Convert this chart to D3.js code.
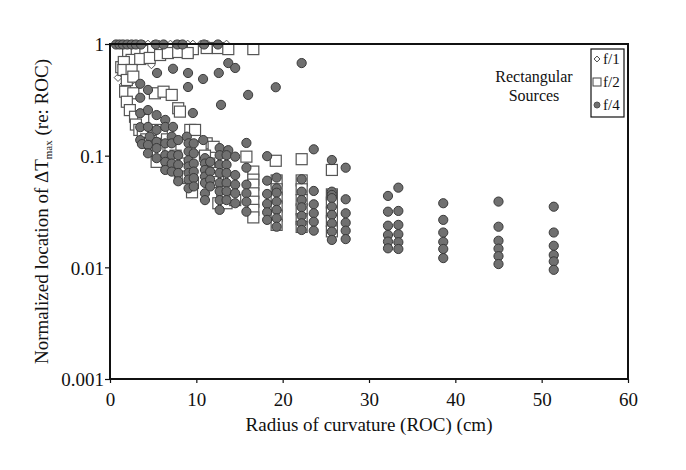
<!DOCTYPE html>
<html>
<head>
<meta charset="utf-8">
<script src="https://cdn.jsdelivr.net/npm/d3@7"></script>
<style>
  body { margin: 0; background: #fff; }
  svg text { font-family: "Liberation Serif", "DejaVu Serif", serif; fill: #111; }
</style>
</head>
<body>
<svg id="chart" width="686" height="470"></svg>
<script>
// f/1 sources (diamonds)
var f1 = [
  [0.6,1],[0.9,1],[1.3,1],[1.7,1],[2.2,1],[2.7,1],[3.3,1],[3.9,1],[4.4,1],[5.0,1],
  [5.7,1],[6.4,1],[7.0,1],[7.5,1],[8.1,1],[9.0,1],[9.6,1],[10.5,1],[11.3,1],[12.7,1],[13.5,1],
  [1.35,0.69],[1.15,0.565],[0.93,0.5],[1.5,0.43],[2.7,0.476],[4.8,0.65],[2.0,0.62]
];

// f/2 sources (squares)
var f2 = [
  [2.1,0.848],[3.1,0.88],[4.1,0.866],[5.0,0.90],[6.0,0.866],[7.0,0.90],[7.9,0.88],[9.0,0.866],
  [9.6,0.90],[11.2,0.92],[12.5,0.92],[13.7,0.90],[16.6,0.90],
  [2.5,0.72],[3.5,0.734],[4.6,0.75],[5.8,0.797],[6.7,0.83],[7.9,0.848],[9.0,0.83],
  [1.3,0.62],[1.6,0.69],
  [1.55,0.585],[2.5,0.585],[1.95,0.476],[2.7,0.51],[1.75,0.374],[2.7,0.362],[1.95,0.304],
  [2.3,0.256],[2.9,0.223],[3.85,0.209],[5.2,0.362],[6.2,0.374],[7.15,0.35],[7.9,0.266],
  [8.1,0.248],[5.4,0.17],[9.3,0.17],[9.85,0.17],[11.2,0.129],[12.0,0.12],[15.8,0.098],
  [19.2,0.09],[22.2,0.093],[25.7,0.0745],
  [16.6,0.072],[16.6,0.061],[16.6,0.055],[16.6,0.046],[16.6,0.0387],[16.6,0.0327],[16.6,0.028],
  [12.55,0.0375],[13.5,0.0375],[9.5,0.047],[8.1,0.063],[5.4,0.088],
  [19.3,0.06],[19.3,0.05],[19.3,0.042],[19.3,0.035],[19.3,0.029],[19.3,0.024],
  [22.2,0.06],[22.2,0.05],[22.2,0.04],[22.2,0.033],[22.2,0.027],[22.2,0.023],
  [25.7,0.045],[25.7,0.038],[25.7,0.031],[25.7,0.026],[25.7,0.021],
  [10.5,0.12],[11.0,0.10],[11.5,0.085],[12.0,0.07],[12.5,0.058],[13.0,0.048],[13.6,0.043],[14.5,0.04],
  [6.0,0.16],[6.6,0.14],[7.0,0.12],[7.6,0.10],[8.0,0.085],[8.6,0.075],[9.0,0.065],[9.6,0.057],
  [3.0,0.19],[3.4,0.17],[3.8,0.16],[4.2,0.14],[4.6,0.13],[5.0,0.12],[5.5,0.11]
];

// f/4 sources (filled circles)
var f4 = [
  [0.7,0.99],[1.1,0.99],[1.5,0.99],[2.0,0.99],[2.5,0.99],[3.0,0.99],[3.6,0.99],[5.3,0.99],
  [6.2,0.99],[7.8,0.99],[8.4,0.99],[10.9,0.99],[12.5,0.99],
  [13.7,0.675],[14.5,0.61],[5.45,0.55],[7.3,0.6],[9.04,0.55],[10.78,0.486],[12.6,0.55],
  [9.04,0.412],[16.0,0.35],[19.2,0.41],[12.86,0.285],[9.6,0.241],[15.8,0.13],[22.2,0.675],
  [3.5,0.44],[3.5,0.33],[3.5,0.24],[3.5,0.18],[3.5,0.138],[3.7,0.127],
  [4.4,0.388],[4.4,0.256],[4.4,0.181],[4.6,0.148],[4.4,0.125],[4.4,0.105],
  [5.4,0.231],[5.4,0.17],[5.4,0.133],[5.4,0.117],[5.4,0.095],
  [6.4,0.209],[6.4,0.181],[6.4,0.129],[6.4,0.101],[6.4,0.088],[6.4,0.0745],
  [7.3,0.181],[7.15,0.148],[7.15,0.129],[7.15,0.101],[7.15,0.085],[7.15,0.072],
  [7.9,0.138],[7.9,0.101],[7.9,0.083],[7.9,0.07],[7.9,0.059],
  [8.9,0.148],[9.1,0.129],[9.1,0.109],[9.1,0.091],[9.1,0.08],[9.1,0.07],[9.1,0.061],[9.1,0.051],
  [9.7,0.129],[9.7,0.105],[9.7,0.085],[9.7,0.072],[9.7,0.063],[9.7,0.053],
  [10.8,0.138],[11.0,0.095],[11.0,0.085],[11.0,0.0745],[11.0,0.065],[11.0,0.057],[11.0,0.046],[11.0,0.04],
  [11.6,0.088],[11.6,0.072],[11.6,0.061],[11.6,0.053],
  [12.7,0.117],[12.7,0.101],[12.7,0.083],[12.7,0.07],[12.7,0.057],[12.7,0.048],[12.7,0.04],[12.7,0.0327],
  [13.7,0.112],[13.5,0.101],[13.5,0.083],[13.5,0.07],[13.5,0.057],[13.5,0.048],[13.5,0.04],
  [14.5,0.098],[14.5,0.067],[14.5,0.055],[14.5,0.046],[14.5,0.0375],
  [15.8,0.078],[15.8,0.055],[15.8,0.046],[15.8,0.0387],[15.8,0.0315],
  [18.2,0.099],[18.2,0.0597],[18.2,0.0454],[18.2,0.037],[18.2,0.0311],[18.2,0.0266],
  [19.3,0.0636],[19.3,0.051],[19.3,0.0466],[19.3,0.0388],[19.3,0.0327],[19.3,0.0275],[19.3,0.0231],
  [22.2,0.0615],[22.2,0.0476],[22.2,0.0401],[22.2,0.0345],[22.2,0.0289],[22.2,0.0248],[22.2,0.0216],
  [23.6,0.114],[23.6,0.0483],[23.6,0.0367],[23.6,0.0305],[23.6,0.0256],[23.6,0.0213],
  [25.7,0.0914],[25.7,0.0476],[25.7,0.0445],[25.7,0.0417],[25.7,0.0349],[25.7,0.0295],[25.7,0.0248],[25.7,0.0209],[25.7,0.0176],
  [27.3,0.078],[27.3,0.0407],[27.3,0.0305],[27.3,0.0251],[27.3,0.0213],[27.3,0.0179],
  [32.2,0.0436],[32.2,0.0315],[32.2,0.0236],[32.2,0.0195],[32.2,0.017],[32.2,0.0148],
  [33.4,0.0517],[33.4,0.032],[33.4,0.024],[33.4,0.0198],[33.4,0.0168],[33.4,0.0146],
  [38.6,0.0375],[38.6,0.0266],[38.6,0.0205],[38.6,0.0169],[38.6,0.0146],[38.6,0.0121],
  [45.0,0.0388],[45.0,0.0231],[45.0,0.0173],[45.0,0.0147],[45.0,0.0126],[45.0,0.0107],
  [51.4,0.0349],[51.4,0.0205],[51.4,0.0156],[51.4,0.0129],[51.4,0.0113],[51.4,0.0095]
];

var xTicks = [0, 10, 20, 30, 40, 50, 60];
var yTicks = [1, 0.1, 0.01, 0.001];
var yTickLabels = ["1", "0.1", "0.01", "0.001"];
var legendLabels = ["f/1", "f/2", "f/4"];

var svg = d3.select("#chart");
var margin = {top: 44, right: 58, bottom: 91, left: 110},
    width = 686 - margin.left - margin.right,
    height = 470 - margin.top - margin.bottom;

var g = svg.append("g").attr("transform", "translate(" + margin.left + "," + margin.top + ")");

var x = d3.scaleLinear().domain([0, 60]).range([0, width]);
var y = d3.scaleLog().domain([0.001, 1]).range([height, 0]);

// points: diamonds, squares, then circles on top
var symDiamond = d3.symbol().type(d3.symbolDiamond2).size(38);

g.append("g").selectAll("path")
  .data(f1).enter().append("path")
  .attr("d", symDiamond)
  .attr("transform", function(d) { return "translate(" + x(d[0]) + "," + y(d[1]) + ")"; })
  .attr("fill", "#fff").attr("stroke", "#555").attr("stroke-width", 1);

g.append("g").selectAll("rect")
  .data(f2).enter().append("rect")
  .attr("x", function(d) { return x(d[0]) - 5.5; })
  .attr("y", function(d) { return y(d[1]) - 5.5; })
  .attr("width", 11).attr("height", 11)
  .attr("fill", "#fff").attr("stroke", "#555").attr("stroke-width", 1.2);

g.append("g").selectAll("circle")
  .data(f4).enter().append("circle")
  .attr("cx", function(d) { return x(d[0]); })
  .attr("cy", function(d) { return y(d[1]); })
  .attr("r", 4.6)
  .attr("fill", "#707070").attr("stroke", "#3a3a3a").attr("stroke-width", 1);

// frame
g.append("rect").attr("width", width).attr("height", height)
  .attr("fill", "none").attr("stroke", "#111").attr("stroke-width", 2);

var xAxis = g.append("g").attr("transform", "translate(0," + height + ")")
  .call(d3.axisBottom(x).tickValues(xTicks).tickSize(4).tickFormat(d3.format("d")));
var yAxis = g.append("g")
  .call(d3.axisLeft(y).tickValues(yTicks).tickSize(5)
    .tickFormat(function(d, i) { return yTickLabels[i]; }));

[xAxis, yAxis].forEach(function(a) {
  a.select(".domain").remove();
  a.selectAll(".tick line").attr("stroke", "#111").attr("stroke-width", 1.2);
  a.selectAll(".tick text").style("font-size", "19px").attr("fill", "#111");
});
xAxis.selectAll(".tick text").attr("dy", "1.05em");
yAxis.selectAll(".tick text").attr("x", -6).attr("dy", "0.36em");

// axis titles
svg.append("text")
  .attr("x", margin.left + width / 2).attr("y", 431)
  .attr("text-anchor", "middle").style("font-size", "19px")
  .text("Radius of curvature (ROC) (cm)");

var yt = svg.append("text")
  .attr("transform", "translate(48," + (margin.top + height / 2) + ") rotate(-90)")
  .attr("text-anchor", "middle").style("font-size", "19px");
yt.append("tspan").text("Normalized location of \u0394T");
yt.append("tspan").attr("dy", 4).style("font-size", "11px").text("max");
yt.append("tspan").attr("dy", -4).text(" (re: ROC)");

// annotation
svg.append("text").attr("x", 534).attr("y", 82).attr("text-anchor", "middle")
  .style("font-size", "16px").text("Rectangular");
svg.append("text").attr("x", 534).attr("y", 101).attr("text-anchor", "middle")
  .style("font-size", "16px").text("Sources");

// legend
var leg = svg.append("g").attr("transform", "translate(591,49)");
leg.append("rect").attr("width", 33).attr("height", 68)
  .attr("fill", "#fff").attr("stroke", "#111").attr("stroke-width", 1.2);
var items = leg.selectAll(".leg").data(legendLabels).enter().append("g")
  .attr("transform", function(d, i) { return "translate(0," + (10 + i * 23) + ")"; });
items.each(function(d, i) {
  var it = d3.select(this);
  if (i === 0) it.append("path").attr("d", d3.symbol().type(d3.symbolDiamond2).size(22))
    .attr("transform", "translate(6,0)").attr("fill", "#fff").attr("stroke", "#444");
  if (i === 1) it.append("rect").attr("x", 2).attr("y", -4).attr("width", 8).attr("height", 8)
    .attr("fill", "#fff").attr("stroke", "#444");
  if (i === 2) it.append("circle").attr("cx", 6).attr("r", 3).attr("fill", "#707070").attr("stroke", "#555");
  it.append("text").attr("x", 12).attr("dy", "0.35em").style("font-size", "15px").text(d);
});
</script>
</body>
</html>
